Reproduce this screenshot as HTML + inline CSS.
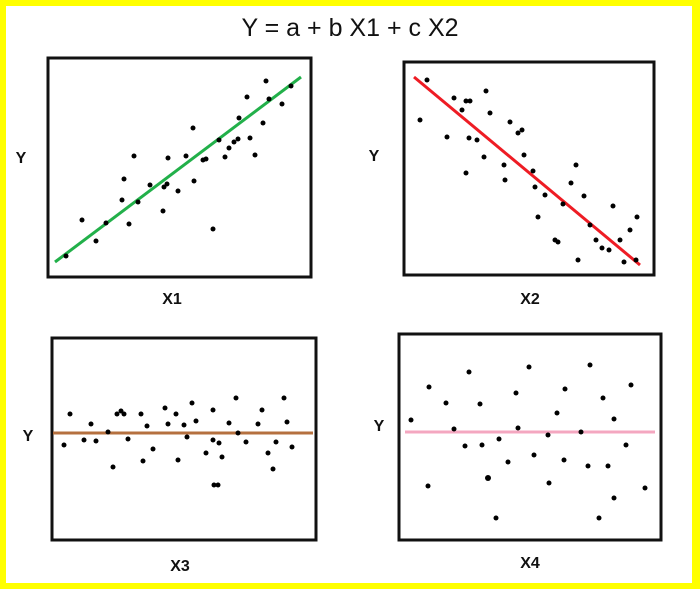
<!DOCTYPE html>
<html><head><style>
html,body{margin:0;padding:0;background:#fff}
svg{display:block}
text{font-family:"Liberation Sans",sans-serif}
</style></head><body>
<svg width="700" height="589" viewBox="0 0 700 589">
<rect x="0" y="0" width="700" height="589" fill="#ffff00"/>
<rect x="6" y="6" width="686" height="577" fill="#fff"/>
<text x="350" y="36" font-size="25" text-anchor="middle" fill="#111">Y = a + b X1 + c X2</text>
<g fill="none" stroke="#111" stroke-width="3">
<rect x="48" y="58" width="263" height="219"/>
<rect x="404" y="62" width="250" height="213"/>
<rect x="52" y="338" width="264" height="202"/>
<rect x="399" y="334" width="262" height="206"/>
</g>
<g font-size="16" font-weight="bold" fill="#111" text-anchor="middle">
<text x="21" y="163">Y</text><text x="172" y="304">X1</text>
<text x="374" y="161">Y</text><text x="530" y="304">X2</text>
<text x="28" y="441">Y</text><text x="180" y="571">X3</text>
<text x="379" y="431">Y</text><text x="530" y="568">X4</text>
</g>
<line x1="55" y1="262" x2="301" y2="77" stroke="#22b04a" stroke-width="3"/>
<line x1="414" y1="77" x2="640" y2="265" stroke="#ee1c24" stroke-width="3"/>
<line x1="53" y1="433" x2="313" y2="433" stroke="#b5703f" stroke-width="3"/>
<line x1="405" y1="432" x2="655" y2="432" stroke="#f4a7c0" stroke-width="3"/>
<g fill="#000">
<circle cx="66" cy="256" r="2.5"/><circle cx="82" cy="220" r="2.5"/><circle cx="96" cy="241" r="2.5"/><circle cx="106" cy="223" r="2.5"/><circle cx="122" cy="200" r="2.5"/><circle cx="124" cy="179" r="2.5"/><circle cx="129" cy="224" r="2.5"/><circle cx="134" cy="156" r="2.5"/><circle cx="138" cy="202" r="2.5"/><circle cx="150" cy="185" r="2.5"/><circle cx="163" cy="211" r="2.5"/><circle cx="164" cy="187" r="2.5"/><circle cx="167" cy="184" r="2.5"/><circle cx="168" cy="158" r="2.5"/><circle cx="178" cy="191" r="2.5"/><circle cx="186" cy="156" r="2.5"/><circle cx="193" cy="128" r="2.5"/><circle cx="194" cy="181" r="2.5"/><circle cx="203" cy="160" r="2.5"/><circle cx="206" cy="159" r="2.5"/><circle cx="213" cy="229" r="2.5"/><circle cx="219" cy="140" r="2.5"/><circle cx="225" cy="157" r="2.5"/><circle cx="229" cy="148" r="2.5"/><circle cx="234" cy="142" r="2.5"/><circle cx="238" cy="139" r="2.5"/><circle cx="239" cy="118" r="2.5"/><circle cx="250" cy="138" r="2.5"/><circle cx="255" cy="155" r="2.5"/><circle cx="247" cy="97" r="2.5"/><circle cx="263" cy="123" r="2.5"/><circle cx="266" cy="81" r="2.5"/><circle cx="269" cy="99" r="2.5"/><circle cx="282" cy="104" r="2.5"/><circle cx="291" cy="86" r="2.5"/>
<circle cx="427" cy="80" r="2.5"/><circle cx="420" cy="120" r="2.5"/><circle cx="447" cy="137" r="2.5"/><circle cx="454" cy="98" r="2.5"/><circle cx="462" cy="110" r="2.5"/><circle cx="466" cy="101" r="2.5"/><circle cx="470" cy="101" r="2.5"/><circle cx="469" cy="138" r="2.5"/><circle cx="466" cy="173" r="2.5"/><circle cx="477" cy="140" r="2.5"/><circle cx="484" cy="157" r="2.5"/><circle cx="486" cy="91" r="2.5"/><circle cx="490" cy="113" r="2.5"/><circle cx="504" cy="165" r="2.5"/><circle cx="505" cy="180" r="2.5"/><circle cx="510" cy="122" r="2.5"/><circle cx="518" cy="133" r="2.5"/><circle cx="522" cy="130" r="2.5"/><circle cx="524" cy="155" r="2.5"/><circle cx="533" cy="171" r="2.5"/><circle cx="535" cy="187" r="2.5"/><circle cx="538" cy="217" r="2.5"/><circle cx="545" cy="195" r="2.5"/><circle cx="555" cy="240" r="2.5"/><circle cx="558" cy="242" r="2.5"/><circle cx="563" cy="204" r="2.5"/><circle cx="571" cy="183" r="2.5"/><circle cx="576" cy="165" r="2.5"/><circle cx="578" cy="260" r="2.5"/><circle cx="584" cy="196" r="2.5"/><circle cx="590" cy="225" r="2.5"/><circle cx="596" cy="240" r="2.5"/><circle cx="602" cy="248" r="2.5"/><circle cx="609" cy="250" r="2.5"/><circle cx="613" cy="206" r="2.5"/><circle cx="620" cy="240" r="2.5"/><circle cx="624" cy="262" r="2.5"/><circle cx="630" cy="230" r="2.5"/><circle cx="637" cy="217" r="2.5"/><circle cx="636" cy="260" r="2.5"/>
<circle cx="64" cy="445" r="2.5"/><circle cx="70" cy="414" r="2.5"/><circle cx="84" cy="440" r="2.5"/><circle cx="91" cy="424" r="2.5"/><circle cx="96" cy="441" r="2.5"/><circle cx="108" cy="432" r="2.5"/><circle cx="113" cy="467" r="2.5"/><circle cx="117" cy="414" r="2.5"/><circle cx="121" cy="411" r="2.5"/><circle cx="124" cy="414" r="2.5"/><circle cx="128" cy="439" r="2.5"/><circle cx="141" cy="414" r="2.5"/><circle cx="143" cy="461" r="2.5"/><circle cx="147" cy="426" r="2.5"/><circle cx="153" cy="449" r="2.5"/><circle cx="165" cy="408" r="2.5"/><circle cx="168" cy="424" r="2.5"/><circle cx="176" cy="414" r="2.5"/><circle cx="178" cy="460" r="2.5"/><circle cx="184" cy="425" r="2.5"/><circle cx="187" cy="437" r="2.5"/><circle cx="192" cy="403" r="2.5"/><circle cx="196" cy="421" r="2.5"/><circle cx="206" cy="453" r="2.5"/><circle cx="213" cy="410" r="2.5"/><circle cx="213" cy="440" r="2.5"/><circle cx="219" cy="443" r="2.5"/><circle cx="214" cy="485" r="2.5"/><circle cx="218" cy="485" r="2.5"/><circle cx="222" cy="457" r="2.5"/><circle cx="229" cy="423" r="2.5"/><circle cx="236" cy="398" r="2.5"/><circle cx="238" cy="433" r="2.5"/><circle cx="246" cy="442" r="2.5"/><circle cx="258" cy="424" r="2.5"/><circle cx="262" cy="410" r="2.5"/><circle cx="268" cy="453" r="2.5"/><circle cx="273" cy="469" r="2.5"/><circle cx="276" cy="442" r="2.5"/><circle cx="284" cy="398" r="2.5"/><circle cx="287" cy="422" r="2.5"/><circle cx="292" cy="447" r="2.5"/>
<circle cx="411" cy="420" r="2.5"/><circle cx="429" cy="387" r="2.5"/><circle cx="428" cy="486" r="2.5"/><circle cx="446" cy="403" r="2.5"/><circle cx="454" cy="429" r="2.5"/><circle cx="469" cy="372" r="2.5"/><circle cx="465" cy="446" r="2.5"/><circle cx="480" cy="404" r="2.5"/><circle cx="482" cy="445" r="2.5"/><circle cx="488" cy="478" r="3"/><circle cx="496" cy="518" r="2.5"/><circle cx="499" cy="439" r="2.5"/><circle cx="508" cy="462" r="2.5"/><circle cx="516" cy="393" r="2.5"/><circle cx="518" cy="428" r="2.5"/><circle cx="529" cy="367" r="2.5"/><circle cx="534" cy="455" r="2.5"/><circle cx="548" cy="435" r="2.5"/><circle cx="549" cy="483" r="2.5"/><circle cx="557" cy="413" r="2.5"/><circle cx="565" cy="389" r="2.5"/><circle cx="564" cy="460" r="2.5"/><circle cx="581" cy="432" r="2.5"/><circle cx="588" cy="466" r="2.5"/><circle cx="590" cy="365" r="2.5"/><circle cx="599" cy="518" r="2.5"/><circle cx="603" cy="398" r="2.5"/><circle cx="608" cy="466" r="2.5"/><circle cx="614" cy="419" r="2.5"/><circle cx="614" cy="498" r="2.5"/><circle cx="626" cy="445" r="2.5"/><circle cx="631" cy="385" r="2.5"/><circle cx="645" cy="488" r="2.5"/>
</g>
</svg>
</body></html>
